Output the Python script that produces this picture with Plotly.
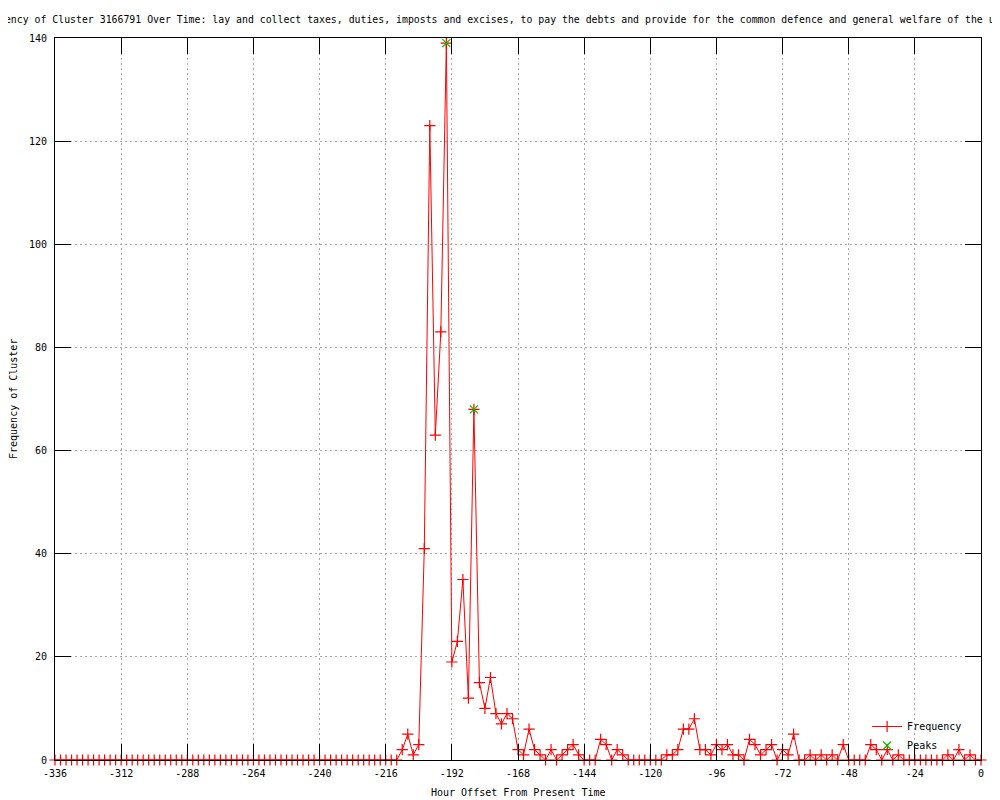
import plotly.graph_objects as go

# ---- data ----
hours = list(range(-336, 1, 2))  # one bin every 2 hours

frequency = [
    # -336 .. -212
    0, 0, 0, 0, 0, 0, 0, 0, 0, 0, 0, 0, 0, 0, 0, 0,
    0, 0, 0, 0, 0, 0, 0, 0, 0, 0, 0, 0, 0, 0, 0, 0,
    0, 0, 0, 0, 0, 0, 0, 0, 0, 0, 0, 0, 0, 0, 0, 0,
    0, 0, 0, 0, 0, 0, 0, 0, 0, 0, 0, 0, 0, 0, 0,
    # -210 .. -176
    2, 5, 1, 3, 41, 123, 63, 83, 139, 19, 23, 35, 12, 68, 15, 10, 16, 9,
    # -174 .. -140
    7, 9, 8, 2, 1, 6, 2, 1, 0, 2, 0, 1, 2, 3, 1, 0, 0, 0,
    # -138 .. -104
    4, 3, 0, 2, 1, 0, 0, 0, 0, 0, 0, 0, 1, 1, 2, 6, 6, 8,
    # -102 .. -68
    2, 2, 1, 3, 2, 3, 1, 1, 0, 4, 3, 1, 2, 3, 0, 2, 1, 5,
    # -66 .. -32
    0, 0, 1, 0, 1, 0, 1, 0, 3, 0, 0, 0, 0, 3, 2, 0, 2, 0,
    # -30 .. 0
    1, 0, 0, 0, 0, 0, 0, 0, 0, 1, 0, 2, 0, 1, 0, 0,
]

peak_hours = [-194, -184]
peak_values = [139, 68]

x_tick_values = [-336, -312, -288, -264, -240, -216, -192, -168, -144, -120, -96, -72, -48, -24, 0]
x_tick_labels = ["-336", "-312", "-288", "-264", "-240", "-216", "-192", "-168", "-144", "-120",
                 "-96", "-72", "-48", "-24", "0"]
y_tick_values = [0, 20, 40, 60, 80, 100, 120, 140]
y_tick_labels = ["0", "20", "40", "60", "80", "100", "120", "140"]

title_text = ("Frequency of Cluster 3166791 Over Time: lay and collect taxes, duties, imposts and excises, "
              "to pay the debts and provide for the common defence and general welfare of the united States")

FONT = "DejaVu Sans Mono"
RED = "#ff0000"
GREEN = "#00c000"

fig = go.Figure()
fig.add_trace(go.Scatter(
    x=hours, y=frequency, name="Frequency", mode="lines+markers",
    line=dict(color=RED, width=1),
    marker=dict(symbol="cross-thin", size=8, line=dict(color=RED, width=1.2), color=RED),
    cliponaxis=False,
))
fig.add_trace(go.Scatter(
    x=peak_hours, y=peak_values, name="Peaks", mode="markers",
    marker=dict(symbol="x-thin", size=8, line=dict(color=GREEN, width=1.2), color=GREEN),
    cliponaxis=False,
))

axis_common = dict(
    showline=True, linecolor="black", linewidth=1, mirror="ticks",
    ticks="inside", ticklen=16, tickcolor="black", tickwidth=1,
    showgrid=True, gridcolor="#a8a8a8", griddash="2px,3px", gridwidth=1,
    zeroline=False, tickfont=dict(family=FONT, size=10, color="black"),
)

fig.update_xaxes(range=[-336, 0], tickmode="array", tickvals=x_tick_values, ticktext=x_tick_labels,
                 ticklabelstandoff=4, **axis_common)
fig.update_yaxes(range=[0, 140], tickmode="array", tickvals=y_tick_values, ticktext=y_tick_labels,
                 ticklabelstandoff=5, **axis_common)

fig.update_layout(
    width=1000, height=800,
    margin=dict(l=47, r=27, t=30, b=48, autoexpand=False),
    plot_bgcolor="white", paper_bgcolor="white",
    font=dict(family=FONT, size=10, color="black"),
    title=dict(text=title_text, x=0.5125, xref="container", xanchor="center",
               y=1 - 11.5 / 800, yref="container", yanchor="middle",
               font=dict(family=FONT, size=9.85, color="black")),
    showlegend=True,
    legend=dict(x=0.985, y=0.0, xanchor="right", yanchor="bottom",
                bgcolor="rgba(0,0,0,0)", borderwidth=0,
                font=dict(family=FONT, size=10, color="black"),
                tracegroupgap=0, itemwidth=30),
    annotations=[
        dict(text="Hour Offset From Present Time", xref="paper", yref="paper",
             x=0.5, y=(760 - 793) / 722, xanchor="center", yanchor="middle", showarrow=False,
             font=dict(family=FONT, size=10, color="black")),
        dict(text="Frequency of Cluster", xref="paper", yref="paper",
             x=(13 - 55) / 926, y=0.5, xanchor="center", yanchor="middle", textangle=-90,
             showarrow=False, font=dict(family=FONT, size=10, color="black")),
    ],
)

fig.write_html("out.html")
